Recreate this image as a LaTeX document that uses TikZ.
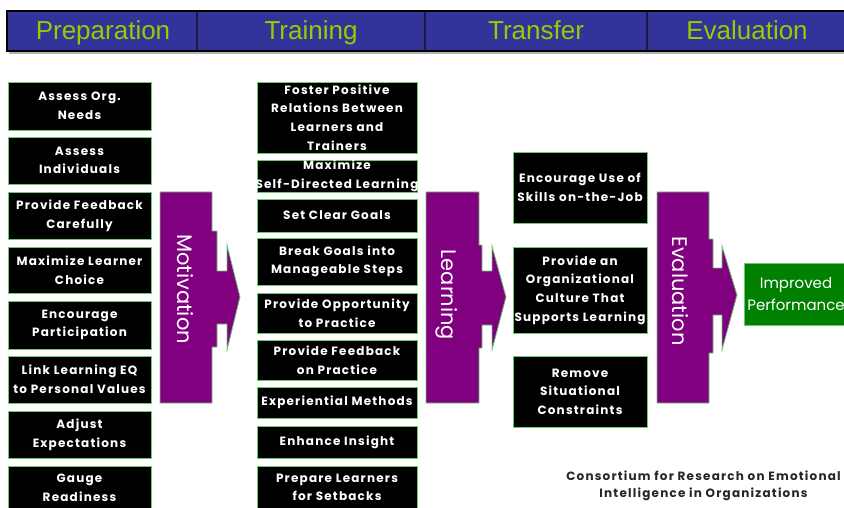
\documentclass[tikz,border=0pt]{standalone}
\usepackage{fontspec}
\setmainfont{Poppins}
\newfontfamily\headfont{Liberation Sans}
\newfontfamily\boxfont[LetterSpace=10]{Poppins}
\definecolor{barblue}{RGB}{51,51,153}
\definecolor{bardivide}{RGB}{25,25,70}
\definecolor{headtext}{RGB}{153,204,0}
\definecolor{plum}{RGB}{128,0,128}
\definecolor{edgegreen}{RGB}{110,200,110}
\definecolor{perfgreen}{RGB}{0,128,0}

\tikzset{
  stepbox/.style={draw=edgegreen, line width=0.9pt, fill=black, inner sep=0pt},
  steptext/.style={text=white, align=center, inner sep=0pt,
    font=\boxfont\fontsize{12}{18.6}\selectfont\bfseries},
  phasearrow/.style={fill=plum, draw=edgegreen, line width=0.8pt, line join=miter},
  phaselabel/.style={text=white, rotate=-90, inner sep=0pt,
    font=\fontsize{21}{24}\selectfont},
  headlabel/.style={text=headtext, anchor=base, inner sep=0pt,
    font=\headfont\fontsize{26}{28}\selectfont},
}

% \stepnode{name}{x1}{y1}{x2}{y2}{text}
\newcommand\stepnode[6]{%
  \node[stepbox, minimum width={(#4-#2)*1pt}, minimum height={(#5-#3)*1pt}]
    (#1) at ({(#2+#4)/2},{(#3+#5)/2}) {};
  \node[steptext] (#1t) at (#1.center) {#6};
}

\begin{document}
\begin{tikzpicture}[x=1pt,y=-1pt]
\clip (0,0) rectangle (844,508);
\fill[white] (0,0) rectangle (844,508);

% phase header bar
\fill[black!30] (9,13) rectangle (852,54);
\draw[fill=barblue, draw=black, line width=1.6pt] (7,11) rectangle (850,51);
\foreach \xd in {197,425,647}
  \draw[bardivide, line width=1.2pt] (\xd,12) -- (\xd,50);
\node[headlabel] (hprep) at (103,40) {Preparation};
\node[headlabel] (htrain) at (311,40) {Training};
\node[headlabel] (htrans) at (536,40) {Transfer};
\node[headlabel] (heval) at (747,40) {Evaluation};

% preparation column
\stepnode{p1}{8}{82}{151}{130}{Assess Org.\\Needs}
\stepnode{p2}{8}{137}{151}{184}{Assess\\Individuals}
\stepnode{p3}{8}{192}{151}{239}{Provide Feedback\\Carefully}
\stepnode{p4}{8}{247}{151}{293}{Maximize Learner\\Choice}
\stepnode{p5}{8}{301}{151}{349}{Encourage\\Participation}
\stepnode{p6}{8}{356}{151}{403}{Link Learning EQ\\to Personal Values}
\stepnode{p7}{8}{411}{151}{458}{Adjust\\Expectations}
\stepnode{p8}{8}{466}{151}{509}{Gauge\\Readiness}

% training column
\stepnode{t1}{257}{82}{417}{153}{Foster Positive\\Relations Between\\Learners and\\Trainers}
\stepnode{t2}{257}{160}{417}{192}{Maximize\\Self-Directed Learning}
\stepnode{t3}{257}{199}{417}{232}{Set Clear Goals}
\stepnode{t4}{257}{238}{417}{285}{Break Goals into\\Manageable Steps}
\stepnode{t5}{257}{293}{417}{333}{Provide Opportunity\\to Practice}
\stepnode{t6}{257}{340}{417}{380}{Provide Feedback\\on Practice}
\stepnode{t7}{257}{387}{417}{418}{Experiential Methods}
\stepnode{t8}{257}{426}{417}{458}{Enhance Insight}
\stepnode{t9}{257}{466}{417}{509}{Prepare Learners\\for Setbacks}

% transfer column
\stepnode{r1}{513}{152}{647}{223}{Encourage Use of\\Skills on-the-Job}
\stepnode{r2}{513}{247}{647}{333}{Provide an\\Organizational\\Culture That\\Supports Learning}
\stepnode{r3}{513}{356}{647}{427}{Remove\\Situational\\Constraints}

% phase arrows
\draw[phasearrow] (160,192) -- (212,192) -- (212,231) -- (217,231) -- (217,271)
  -- (227,271) -- (227,245) -- (240,297) -- (227,350) -- (227,324) -- (217,324)
  -- (217,347) -- (212,347) -- (212,403) -- (160,403) -- cycle;
\node[phaselabel] (motiv) at (185,289) {Motivation};

\draw[phasearrow] (426,192) -- (479,192) -- (479,245) -- (482,245) -- (482,271)
  -- (492,271) -- (492,246) -- (506,297) -- (492,350) -- (492,325) -- (482,325)
  -- (482,348) -- (479,348) -- (479,403) -- (426,403) -- cycle;
\node[phaselabel] (learn) at (447,295) {Learning};

\draw[phasearrow] (657,192) -- (709,192) -- (709,239) -- (713,239) -- (713,268)
  -- (722,268) -- (722,246) -- (737,295) -- (722,350) -- (722,315) -- (713,315)
  -- (713,353) -- (709,353) -- (709,403) -- (657,403) -- cycle;
\node[phaselabel] (evalu) at (680,291) {Evaluation};

% outcome
\node[fill=perfgreen, draw=edgegreen, line width=0.8pt, minimum width=104pt,
  minimum height=62pt, inner sep=0pt] (perf) at (796,294) {};
\node[text=white, align=center, inner sep=0pt,
  font=\fontsize{15}{22}\selectfont] (perft) at (perf.center) {Improved\\Performance};

% credit line
\node[text=black!85, align=center, inner sep=0pt,
  font=\boxfont\fontsize{12}{17}\selectfont\bfseries] (credit) at (703.5,486)
  {Consortium for Research on Emotional\\Intelligence in Organizations};
\end{tikzpicture}
\end{document}
